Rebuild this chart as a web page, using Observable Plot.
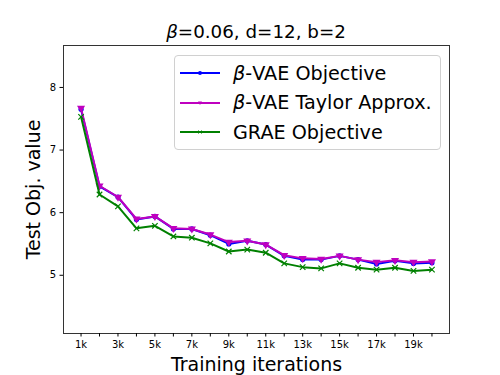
<!DOCTYPE html>
<html>
<head>
<meta charset="utf-8">
<script src="https://cdn.jsdelivr.net/npm/d3@7"></script>
<script src="https://cdn.jsdelivr.net/npm/@observablehq/plot@0.6"></script>
<style>
  body { margin: 0; background: #fff; font-family: "DejaVu Sans", sans-serif; }
  #wrap { position: relative; width: 500px; height: 375px; }
  #title { position: absolute; left: 63px; width: 386px; top: 20px; text-align: center;
    font-size: 18.3px; line-height: 24px; color: #000; }
  #legend { position: absolute; left: 174px; top: 55px; width: 267px; height: 95px;
    border: 1px solid #d0d0d0; border-radius: 4px; background: rgba(255,255,255,0.85);
    box-sizing: border-box; }
  .row { position: absolute; left: 5px; height: 24px; display: flex; align-items: center; }
  .row svg { margin-right: 13px; }
  .row span { font-size: 19.2px; color: #000; white-space: nowrap; }
</style>
</head>
<body>
<div id="wrap"></div>
<script>
const iterations = d3.range(1, 21); // in thousands
const betaVAE =   [7.65, 6.42, 6.25, 5.89, 5.94, 5.74, 5.74, 5.64, 5.50, 5.55, 5.49, 5.31, 5.25, 5.25, 5.31, 5.25, 5.18, 5.23, 5.19, 5.20];
const taylor =    [7.67, 6.43, 6.25, 5.90, 5.94, 5.75, 5.74, 5.65, 5.53, 5.55, 5.49, 5.32, 5.27, 5.26, 5.31, 5.25, 5.21, 5.24, 5.21, 5.22];
const grae =      [7.53, 6.29, 6.10, 5.75, 5.79, 5.62, 5.60, 5.51, 5.38, 5.41, 5.36, 5.19, 5.13, 5.11, 5.19, 5.12, 5.09, 5.12, 5.07, 5.09];
const seriesNames = ["β-VAE Objective", "β-VAE Taylor Approx.", "GRAE Objective"];
const seriesColors = ["#0000ff", "#bf00bf", "#008000"];
const xTickLabels = ["1k", "3k", "5k", "7k", "9k", "11k", "13k", "15k", "17k", "19k"];
const yTicks = [5, 6, 7, 8];
const title = "β=0.06, d=12, b=2";
const xLabel = "Training iterations";
const yLabel = "Test Obj. value";

const rows = (vals, s) => iterations.map((x, i) => ({x, y: vals[i], s}));
const dB = rows(betaVAE, 0), dT = rows(taylor, 1), dG = rows(grae, 2);

const plot = Plot.plot({
  width: 500, height: 375,
  marginLeft: 63, marginRight: 51, marginTop: 45, marginBottom: 42,
  style: {fontFamily: "DejaVu Sans, sans-serif", fontSize: "10px", background: "#fff", color: "#000"},
  x: {domain: [0.05, 20.95]},
  y: {domain: [4.07, 8.67]},
  marks: [
    Plot.frame({stroke: "#333", strokeWidth: 1}),
    Plot.axisX({ticks: iterations, tickSize: 3.5, tickPadding: 4,
      tickFormat: d => (d % 2 === 1 ? xTickLabels[(d - 1) / 2] : ""), label: null, fontSize: 10}),
    Plot.axisY({ticks: yTicks, tickSize: 3.5, tickPadding: 4, tickFormat: d => String(d), label: null, fontSize: 10}),
    Plot.line(dB, {x: "x", y: "y", stroke: seriesColors[0], strokeWidth: 2}),
    Plot.dot(dB, {x: "x", y: "y", fill: seriesColors[0], r: 2.6, symbol: "circle"}),
    Plot.line(dT, {x: "x", y: "y", stroke: seriesColors[1], strokeWidth: 2}),
    Plot.dot(dT, {x: "x", y: "y", fill: seriesColors[1], r: 3, symbol: "triangle", rotate: 180}),
    Plot.line(dG, {x: "x", y: "y", stroke: seriesColors[2], strokeWidth: 2}),
    Plot.dot(dG, {x: "x", y: "y", stroke: seriesColors[2], r: 2.6, symbol: "times", strokeWidth: 1.2}),
    Plot.text([xLabel], {frameAnchor: "bottom", lineAnchor: "middle", dy: 31, text: d => d, fontSize: 19, fill: "#000"}),
    Plot.text([yLabel], {frameAnchor: "left", lineAnchor: "middle", textAnchor: "middle", dx: -30, rotate: -90, text: d => d, fontSize: 19, fill: "#000"})
  ]
});
const wrap = document.getElementById("wrap");
wrap.appendChild(plot);

const t = document.createElement("div");
t.id = "title";
t.innerHTML = title.replace("β", "<i>β</i>");
wrap.appendChild(t);

// legend
const legend = document.createElement("div");
legend.id = "legend";
const markers = [
  '<circle cx="20" cy="5" r="2" fill="C"/>',
  '<path d="M18,3.5 L22,3.5 L20,7 Z" fill="C"/>',
  '<path d="M18.5,3.5 L21.5,6.5 M21.5,3.5 L18.5,6.5" stroke="C" stroke-width="1"/>'
];
seriesNames.forEach((name, i) => {
  const row = document.createElement("div");
  row.className = "row";
  row.style.top = (5 + i * 29.5) + "px";
  row.innerHTML = `<svg width="40" height="10"><line x1="0" x2="40" y1="5" y2="5" stroke="${seriesColors[i]}" stroke-width="2"/>${markers[i].replace(/C/g, seriesColors[i])}</svg><span>${name.replace("β", "<i>β</i>")}</span>`;
  legend.appendChild(row);
});
wrap.appendChild(legend);
</script>
</body>
</html>
